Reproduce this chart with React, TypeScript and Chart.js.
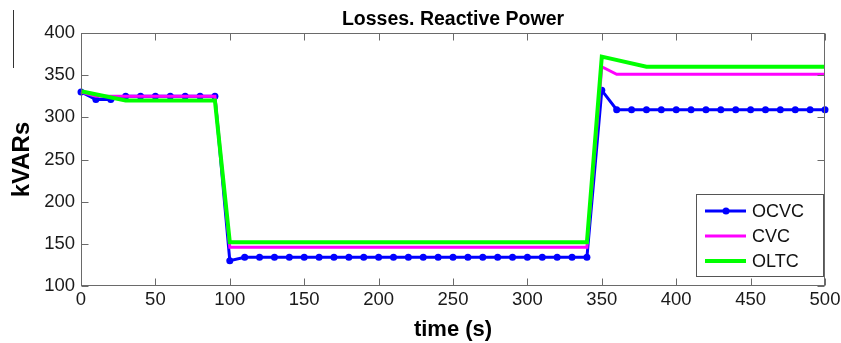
import React, { useEffect, useRef } from "react";
import { Chart, registerables } from "chart.js";

Chart.register(...registerables);

const chartTitle = "Losses. Reactive Power";
const xTitle = "time (s)";
const yTitle = "kVARs";

const ocvcTimes = [
  0, 10, 20, 30, 40, 50, 60, 70, 80, 90,
  100, 110, 120, 130, 140, 150, 160, 170, 180, 190,
  200, 210, 220, 230, 240, 250, 260, 270, 280, 290,
  300, 310, 320, 330, 340, 350, 360, 370, 380, 390,
  400, 410, 420, 430, 440, 450, 460, 470, 480, 490, 500,
];
const ocvcValues = [
  330, 321, 321, 325, 325, 325, 325, 325, 325, 325,
  130, 134, 134, 134, 134, 134, 134, 134, 134, 134,
  134, 134, 134, 134, 134, 134, 134, 134, 134, 134,
  134, 134, 134, 134, 134, 332, 309, 309, 309, 309,
  309, 309, 309, 309, 309, 309, 309, 309, 309, 309, 309,
];

const cvcTimes = [0, 10, 90, 100, 340, 350, 360, 500];
const cvcValues = [330, 325, 325, 146, 146, 360, 351, 351];

const oltcTimes = [0, 30, 90, 100, 340, 350, 380, 500];
const oltcValues = [331, 320, 320, 152, 152, 372, 360, 360];

const xMin = 0, xMax = 500, xStep = 50;
const yMin = 100, yMax = 400, yStep = 50;

const FONT = "'Liberation Sans', Arial, Helvetica, sans-serif";

const toPoints = (xs: number[], ys: number[]) => xs.map((x, i) => ({ x, y: ys[i] }));

const framePlugin = {
  id: "frame",
  afterDatasetsDraw(chart: any) {
    const { ctx, chartArea: a, scales } = chart;
    const x = scales.x, y = scales.y;
    const tl = 7;
    ctx.save();
    ctx.strokeStyle = "#6a6a6a";
    ctx.lineWidth = 1;
    const L = Math.round(a.left) + 0.5, R = Math.round(a.right) - 0.5;
    const T = Math.round(a.top) + 0.5, B = Math.round(a.bottom) - 0.5;
    ctx.strokeRect(L, T, R - L, B - T);
    ctx.beginPath();
    x.ticks.forEach((t: any) => {
      const px = Math.round(x.getPixelForValue(t.value)) + 0.5;
      ctx.moveTo(px, B); ctx.lineTo(px, B - tl);
      ctx.moveTo(px, T); ctx.lineTo(px, T + tl);
    });
    y.ticks.forEach((t: any) => {
      const py = Math.round(y.getPixelForValue(t.value)) + 0.5;
      ctx.moveTo(L, py); ctx.lineTo(L + tl, py);
      ctx.moveTo(R, py); ctx.lineTo(R - tl, py);
    });
    ctx.stroke();
    ctx.restore();
  },
};

const titlePlugin = {
  id: "areaTitle",
  afterDraw(chart: any) {
    const { ctx, chartArea: a } = chart;
    ctx.save();
    ctx.fillStyle = "#000000";
    ctx.font = `bold 19.5px ${FONT}`;
    ctx.textAlign = "center";
    ctx.textBaseline = "alphabetic";
    ctx.fillText(chartTitle, (a.left + a.right) / 2, 25);
    ctx.restore();
  },
};

const legendPlugin = {
  id: "boxLegend",
  afterDraw(chart: any) {
    const { ctx, chartArea: a } = chart;
    const w = 127, h = 82;
    const left = Math.round(a.right) - 2 - w;
    const top = Math.round(a.bottom) - 10 - h;
    ctx.save();
    ctx.fillStyle = "#ffffff";
    ctx.fillRect(left, top, w, h);
    ctx.strokeStyle = "#555555";
    ctx.lineWidth = 1;
    ctx.strokeRect(left + 0.5, top + 0.5, w, h);
    const ds = [...chart.data.datasets].sort((p: any, q: any) => p.legendIndex - q.legendIndex);
    ds.forEach((d: any, i: number) => {
      const cy = top + 17 + i * 25;
      ctx.strokeStyle = d.borderColor;
      ctx.lineWidth = d.borderWidth;
      ctx.beginPath();
      ctx.moveTo(left + 9, cy);
      ctx.lineTo(left + 50, cy);
      ctx.stroke();
      if (d.pointRadius > 0) {
        ctx.fillStyle = d.pointBackgroundColor;
        ctx.beginPath();
        ctx.arc(left + 30, cy, d.pointRadius, 0, Math.PI * 2);
        ctx.fill();
      }
      ctx.fillStyle = "#111111";
      ctx.font = `18px ${FONT}`;
      ctx.textBaseline = "middle";
      ctx.textAlign = "left";
      ctx.fillText(d.label, left + 56, cy + 1);
    });
    ctx.restore();
  },
};

export default function App() {
  const ref = useRef<HTMLCanvasElement | null>(null);

  useEffect(() => {
    if (!ref.current) return;
    const chart = new Chart(ref.current, {
      type: "line",
      data: {
        datasets: [
          {
            label: "OLTC",
            legendIndex: 2,
            data: toPoints(oltcTimes, oltcValues),
            borderColor: "#00ff00",
            backgroundColor: "#00ff00",
            borderWidth: 4,
            pointRadius: 0,
            order: 0,
            clip: false,
          } as any,
          {
            label: "CVC",
            legendIndex: 1,
            data: toPoints(cvcTimes, cvcValues),
            borderColor: "#ff00ff",
            backgroundColor: "#ff00ff",
            borderWidth: 3,
            pointRadius: 0,
            order: 1,
            clip: false,
          } as any,
          {
            label: "OCVC",
            legendIndex: 0,
            data: toPoints(ocvcTimes, ocvcValues),
            borderColor: "#0000ff",
            backgroundColor: "#0000ff",
            pointBackgroundColor: "#0000ff",
            pointBorderColor: "#0000ff",
            borderWidth: 3,
            pointRadius: 3.5,
            pointBorderWidth: 0,
            order: 2,
            clip: false,
          } as any,
        ],
      },
      options: {
        animation: false,
        responsive: false,
        events: [],
        layout: { padding: { top: 33, right: 16, left: 0, bottom: 0 } },
        elements: { line: { tension: 0 } },
        plugins: {
          legend: { display: false },
          tooltip: { enabled: false },
          title: { display: false },
        },
        scales: {
          x: {
            type: "linear",
            min: xMin,
            max: xMax,
            grid: { display: false, drawTicks: false },
            border: { display: false },
            ticks: {
              stepSize: xStep,
              color: "#1a1a1a",
              padding: 3,
              maxRotation: 0,
              font: { family: FONT, size: 18.5 },
            },
            title: {
              display: true,
              text: xTitle,
              color: "#000000",
              font: { family: FONT, size: 22, weight: "bold" },
              padding: { top: 0, bottom: 0 },
            },
            afterFit(scale: any) {
              scale.height = 57;
              scale.paddingLeft = 0;
              scale.paddingRight = 0;
            },
          },
          y: {
            type: "linear",
            min: yMin,
            max: yMax,
            grid: { display: false, drawTicks: false },
            border: { display: false },
            ticks: {
              stepSize: yStep,
              color: "#1a1a1a",
              padding: 6,
              font: { family: FONT, size: 18.5 },
            },
            title: {
              display: true,
              text: yTitle,
              color: "#000000",
              font: { family: FONT, size: 24, weight: "bold" },
              padding: { top: 8, bottom: 0 },
            },
            afterFit(scale: any) {
              scale.width = 81;
              scale.paddingTop = 0;
              scale.paddingBottom = 0;
            },
          },
        },
      },
      plugins: [framePlugin, titlePlugin, legendPlugin],
    });
    return () => chart.destroy();
  }, []);

  return (
    <div style={{ position: "absolute", left: 0, top: 0, width: 841, height: 343, background: "#fff" }}>
      <canvas ref={ref} width={841} height={343} style={{ display: "block" }} />
      <div style={{ position: "absolute", left: 13, top: 10, width: 1, height: 58, background: "#333" }} />
    </div>
  );
}
